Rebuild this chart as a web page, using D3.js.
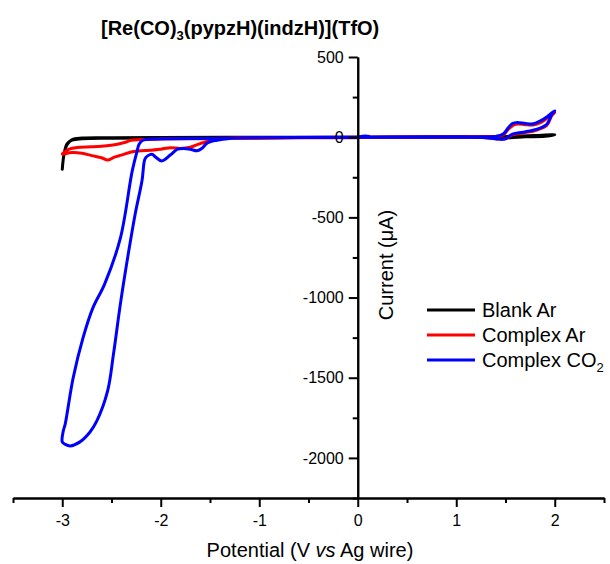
<!DOCTYPE html>
<html>
<head>
<meta charset="utf-8">
<script src="https://cdn.jsdelivr.net/npm/d3@7"></script>
<style>
  body { margin: 0; background: #fff; }
  svg { font-family: Arial, "Liberation Sans", sans-serif; }
</style>
</head>
<body>
<svg id="chart" width="610" height="564"></svg>
<script>
// cyclic voltammograms, potential (V) and current (uA)
const blankV = [0, -1, -2, -2.5, -2.8, -2.9, -2.95, -2.98, -3.0, -2.98, -2.95, -2.9, -2.8, -2.5, -2, -1, 0, 1, 1.5, 1.8, 2.0, 1.9, 1.7, 1.55, 1.45, 1.3, 1, 0];
const blankI = [-2, -3, -5, -7, -10, -18, -40, -100, -200, -100, -45, -15, -5, -3, -2, 0, 0, 2, 5, 10, 15, 6, 2, -4, -5, -2, -1, 0];

const complexArV = [0, -1, -1.4, -1.6, -1.7, -1.8, -1.9, -2.0, -2.1, -2.2, -2.3, -2.4, -2.47, -2.54, -2.6, -2.7, -2.8, -2.9, -3.0,
  -2.97, -2.93, -2.85, -2.7, -2.6, -2.44, -2.35, -2.3, -2.2, -2.0, -1.5, -1, 0, 1, 1.4, 1.48, 1.53, 1.58, 1.63, 1.7, 1.78, 1.86, 1.93, 2.0,
  1.97, 1.92, 1.82, 1.68, 1.57, 1.5, 1.44, 1.3, 1, 0];
const complexArI = [-3, -6, -10, -40, -62, -70, -66, -75, -82, -84, -92, -112, -124, -143, -128, -115, -100, -95, -105,
  -90, -75, -64, -60, -56, -44, -30, -19, -15, -12, -8, -5, 0, 3, 5, 15, 50, 75, 82, 78, 76, 92, 122, 155,
  135, 75, 45, 26, 14, -10, -12, -3, -1, 0];

const complexCO2V = [0, 0.08, 0.12, -0.5, -1, -1.3, -1.43, -1.53, -1.58, -1.63, -1.7, -1.77, -1.83, -1.9, -1.99, -2.05, -2.09, -2.13, -2.16, -2.19,
  -2.26, -2.33, -2.41, -2.48, -2.54, -2.65, -2.72, -2.82, -2.92, -2.97, -3.0,
  -2.99, -2.97, -2.89, -2.79, -2.69, -2.57, -2.41, -2.29, -2.24, -2.22, -2.18, -2.08, -1.5, -1, 0, 1, 1.4, 1.48, 1.53, 1.57, 1.62, 1.7, 1.77, 1.85, 1.93, 2.0,
  1.97, 1.92, 1.82, 1.68, 1.57, 1.5, 1.44, 1.3, 1, 0];
const complexCO2I = [0, 8, 2, -2, -3, -8, -19, -37, -69, -85, -75, -70, -75, -110, -148, -125, -106, -115, -135, -270,
  -480, -729, -1041, -1353, -1584, -1771, -1840, -1900, -1925, -1915, -1900,
  -1833, -1789, -1503, -1253, -1066, -916, -630, -212, -87, -44, -19, -12, -8, -4, 0, 2, 5, 22, 60, 85, 92, 85, 82, 100, 131, 165,
  143, 81, 50, 31, 19, -10, -12, -3, -1, 0];

const seriesNames = ["Blank Ar", "Complex Ar", "Complex CO2"];
const seriesColors = ["#000000", "#ff0000", "#0000ff"];

const xMajor = [-3, -2, -1, 0, 1, 2];
const xMinor = [-3.5, -2.5, -1.5, -0.5, 0.5, 1.5, 2.5];
const yMajor = [500, 0, -500, -1000, -1500, -2000];
const yMinor = [250, -250, -750, -1250, -1750, -2250];

const svg = d3.select("#chart");

const x = d3.scaleLinear().domain([-3.5, 2.5]).range([13, 604]);
const y = d3.scaleLinear().domain([-2250, 500]).range([498, 57]);

// title with subscript
const title = svg.append("text")
  .attr("x", 101)
  .attr("y", 35)
  .attr("font-size", 20)
  .attr("font-weight", "bold");
title.append("tspan").text("[Re(CO)");
title.append("tspan").attr("font-size", 13).attr("dy", 5).text("3");
title.append("tspan").attr("dy", -5).text("(pypzH)(indzH)](TfO)");

// curves
const series = [
  { v: blankV, i: blankI, w: 3 },
  { v: complexArV, i: complexArI, w: 3 },
  { v: complexCO2V, i: complexCO2I, w: 3 }
];

const line = d3.line()
  .x(d => x(d[0]))
  .y(d => y(d[1]))
  .curve(d3.curveCatmullRom.alpha(0.5));

svg.append("g")
  .selectAll("path")
  .data(series)
  .join("path")
  .attr("d", d => line(d.v.map((v, k) => [v, d.i[k]])))
  .attr("fill", "none")
  .attr("stroke", (d, k) => seriesColors[k])
  .attr("stroke-width", d => d.w)
  .attr("stroke-linejoin", "round");

// axes
const plain = d => String(d);

svg.append("g")
  .attr("transform", `translate(0,${y(-2250)})`)
  .call(d3.axisBottom(x).tickValues(xMajor).tickSize(9).tickSizeOuter(0).tickPadding(8).tickFormat(plain));
svg.append("g")
  .attr("transform", `translate(0,${y(-2250)})`)
  .call(d3.axisBottom(x).tickValues(xMinor).tickSize(5).tickSizeOuter(0).tickFormat(""));

svg.append("g")
  .attr("transform", `translate(${x(0)},0)`)
  .call(d3.axisLeft(y).tickValues(yMajor).tickSize(9).tickSizeOuter(0).tickPadding(5).tickFormat(plain));
svg.append("g")
  .attr("transform", `translate(${x(0)},0)`)
  .call(d3.axisLeft(y).tickValues(yMinor).tickSize(5).tickSizeOuter(0).tickFormat(""));

svg.selectAll(".domain").attr("stroke", "#000").attr("stroke-width", 2);
svg.selectAll(".tick line").attr("stroke", "#000").attr("stroke-width", 2);
svg.selectAll(".tick text")
  .attr("font-size", 16)
  .attr("font-family", "Arial, 'Liberation Sans', sans-serif")
  .attr("fill", "#000");

// axis titles
const xTitle = svg.append("text")
  .attr("x", 310)
  .attr("y", 557)
  .attr("text-anchor", "middle")
  .attr("font-size", 20);
xTitle.append("tspan").text("Potential (V ");
xTitle.append("tspan").attr("font-style", "italic").text("vs");
xTitle.append("tspan").text(" Ag wire)");

svg.append("text")
  .attr("transform", `translate(393,265) rotate(-90)`)
  .attr("text-anchor", "middle")
  .attr("font-size", 20)
  .text("Current (\u03bcA)");

// legend
const legend = svg.append("g")
  .selectAll("g")
  .data(seriesNames)
  .join("g")
  .attr("transform", (d, k) => `translate(427,${310 + k * 25})`);

legend.append("line")
  .attr("x1", 0).attr("x2", 48)
  .attr("stroke", (d, k) => seriesColors[k])
  .attr("stroke-width", 3);

legend.append("text")
  .attr("x", 55)
  .attr("y", 7)
  .attr("font-size", 20)
  .each(function (d) {
    const t = d3.select(this);
    if (d.endsWith("CO2")) {
      t.append("tspan").text("Complex CO");
      t.append("tspan").attr("font-size", 13).attr("dy", 5).text("2");
    } else {
      t.text(d);
    }
  });
</script>
</body>
</html>
